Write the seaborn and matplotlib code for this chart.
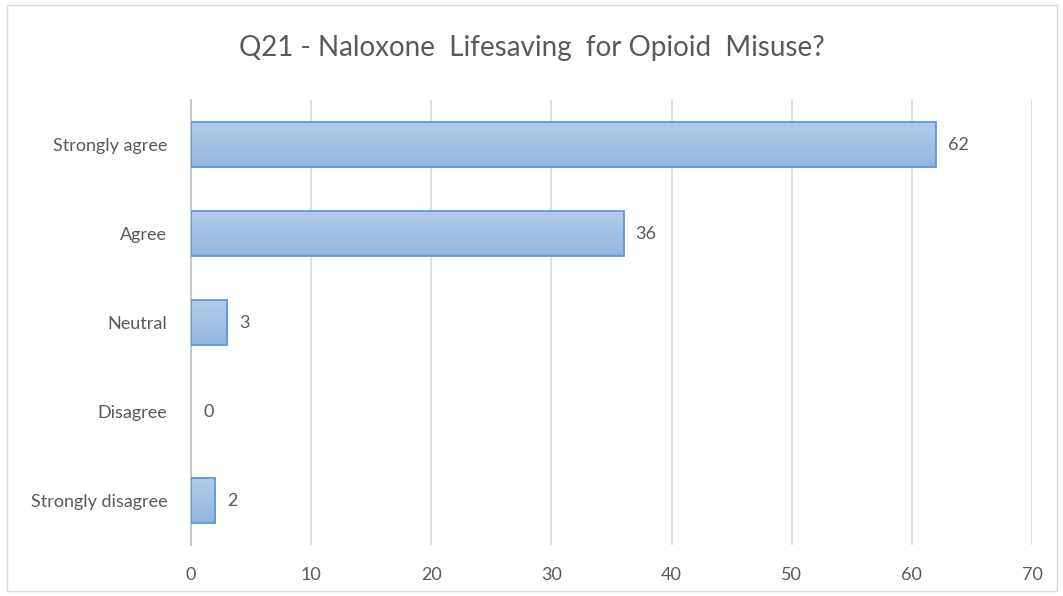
import matplotlib
matplotlib.use("Agg")
import matplotlib.pyplot as plt
import seaborn as sns
import numpy as np
import pandas as pd
from matplotlib.patches import Rectangle
from matplotlib.colors import LinearSegmentedColormap

categories = ["Strongly agree", "Agree", "Neutral", "Disagree", "Strongly disagree"]
values = [62, 36, 3, 0, 2]
xticks = [0, 10, 20, 30, 40, 50, 60, 70]
title = "Q21 - Naloxone  Lifesaving  for Opioid  Misuse?"

sns.set_theme(style="white")
plt.rcParams['font.family'] = ['Lato', 'DejaVu Sans']
grey = "#595959"

df = pd.DataFrame({"cat": categories, "val": values})

fig = plt.figure(figsize=(10.63, 5.96), dpi=100)
ax = fig.add_axes([191/1063, 1-545/596, (1032-191)/1063, 445/596])

sns.barplot(data=df, y="cat", x="val", order=categories, orient="h", ax=ax,
            color="#a3c1e6", edgecolor="#5b9bd5", linewidth=1.3, width=0.5, zorder=3)

# gradient fill
grad = np.linspace(0, 1, 100).reshape(-1, 1)
cmap = LinearSegmentedColormap.from_list("g", ["#b2cbea", "#92b5e0"])
for p in ax.patches:
    w = p.get_width()
    if w <= 0:
        p.set_visible(False)
        continue
    x0, y0, h = p.get_x(), p.get_y(), p.get_height()
    im = ax.imshow(grad, cmap=cmap, aspect="auto", extent=[x0, x0 + w, y0 + h, y0],
                   zorder=3.5, origin="upper")
    im.set_clip_path(p)
    p.set_facecolor("none")
    p.set_zorder(4)

ax.set_xlim(0, 70)
ax.set_ylim(4.5, -0.5)
ax.set_xticks(xticks)
ax.set_xticklabels([str(t) for t in xticks])
ax.xaxis.grid(True, color="#d9d9d9", linewidth=1.2, zorder=0)
ax.set_axisbelow(True)
for s in ["top", "right", "bottom"]:
    ax.spines[s].set_visible(False)
ax.spines["left"].set_color("#bfbfbf")
ax.spines["left"].set_linewidth(1.2)
ax.set_xlabel("")
ax.set_ylabel("")
ax.tick_params(axis="both", length=0, colors=grey, labelsize=13)
ax.tick_params(axis="x", pad=16)
ax.tick_params(axis="y", pad=17)

for i, v in enumerate(values):
    ax.text(v + 1.0, i, str(v), va="center", ha="left", color=grey, fontsize=13)

fig.text(0.5, 1 - 48/596, title, ha="center", va="center", color=grey, fontsize=20)

fig.patches.append(Rectangle((7/1063, 1-591/596), (1057-7)/1063, (589-3)/596,
                             transform=fig.transFigure, fill=False,
                             edgecolor="#d9d9d9", linewidth=1))

fig.savefig("out.png", dpi=100)
